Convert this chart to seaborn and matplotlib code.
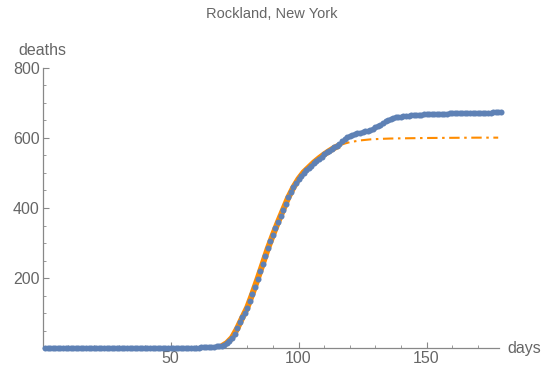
import numpy as np
import pandas as pd
import seaborn as sns
import matplotlib.pyplot as plt
from matplotlib.ticker import MultipleLocator

# cumulative deaths per day, days 1..179
days = list(range(1, 180))
deaths = (
    [0] * 55
    + [0, 0, 1, 1, 1, 1, 2, 2, 3, 3, 4, 4, 5, 6, 7]
    + [10, 14, 20, 28, 40, 56, 73, 88, 101, 114]
    + [134, 155, 175, 197, 219, 240, 262, 285, 305, 324]
    + [342, 360, 377, 394, 412, 430, 445, 460, 472, 483]
    + [492, 501, 508, 514, 521, 528, 535, 541, 547, 553]
    + [559, 564, 569, 573, 578, 584, 591, 598, 603, 607]
    + [609, 611, 613, 615, 617, 619, 621, 624, 627, 630]
    + [634, 638, 643, 648, 652, 655, 657, 659, 660, 661]
    + [662, 663, 664, 665, 666, 666, 667, 667, 668, 668]
    + [668, 668, 669, 669, 669, 669, 669, 669, 670, 670]
    + [670, 670, 670, 670, 670, 670, 671, 671, 671, 671]
    + [671, 672, 672, 672, 672, 673, 673, 673, 673]
)

# fitted model: fit window and extrapolation
fit_days = [70, 72, 74, 76, 78, 80, 82, 84, 86, 88, 90, 92, 94, 96, 98,
            100, 102, 104, 106, 108, 110, 112, 114, 116]
fit_vals = [5, 14, 29, 55, 86, 116, 155, 197, 240, 284, 323, 360, 395, 430, 459,
            483, 502, 516, 530, 542, 553, 563, 572, 579]
ext_days = [116, 118, 120, 124, 128, 132, 136, 140, 150, 160, 170, 178]
ext_vals = [579, 584, 588, 593, 596, 597.5, 598.5, 599, 600, 600.5, 601, 601]

BLUE = "#5E81B5"
ORANGE = "#FF8C00"
GRAY = "#666666"

sns.set_style("ticks")
plt.rcParams["font.family"] = ["Liberation Sans", "DejaVu Sans"]

fig = plt.figure(figsize=(5.45, 3.74), dpi=100)
ax = fig.add_axes([0.078, 0.0695, 0.8385, 0.7487])

sns.lineplot(x=fit_days, y=fit_vals, color=ORANGE, lw=4.4, ax=ax,
             solid_capstyle="butt", clip_on=False, zorder=2)
sns.lineplot(x=ext_days, y=ext_vals, color=ORANGE, lw=1.5, ax=ax,
             linestyle=(0, (5, 2.2, 1.2, 2.2)), zorder=2)
sns.scatterplot(x=days, y=deaths, color=BLUE, s=19, linewidth=0, ax=ax,
                clip_on=False, zorder=3)

ax.set_xlim(0, 178.5)
ax.set_ylim(0, 800)
ax.xaxis.set_major_locator(MultipleLocator(50))
ax.xaxis.set_minor_locator(MultipleLocator(10))
ax.yaxis.set_major_locator(MultipleLocator(200))
ax.yaxis.set_minor_locator(MultipleLocator(50))
ax.set_xticks([50, 100, 150])
ax.set_yticks([200, 400, 600, 800])
ax.tick_params(which="major", direction="in", length=4, width=0.8, color="#888888",
               labelsize=11.5, labelcolor=GRAY, pad=2)
ax.tick_params(which="minor", direction="in", length=2.5, width=0.6, color="#888888")

sns.despine(ax=ax)
for side in ["left", "bottom"]:
    ax.spines[side].set_color("#888888")
    ax.spines[side].set_linewidth(0.9)

ax.set_xlabel("")
ax.set_ylabel("")
ax.text(0, 828, "deaths", ha="center", va="bottom", fontsize=11.5, color=GRAY)
ax.text(181.5, 0, "days", ha="left", va="center", fontsize=11.5, color=GRAY,
        clip_on=False)
fig.text(0.499, 0.963, "Rockland, New York", ha="center", va="center",
         fontsize=10.5, color=GRAY)

fig.savefig("out.png", dpi=100)
